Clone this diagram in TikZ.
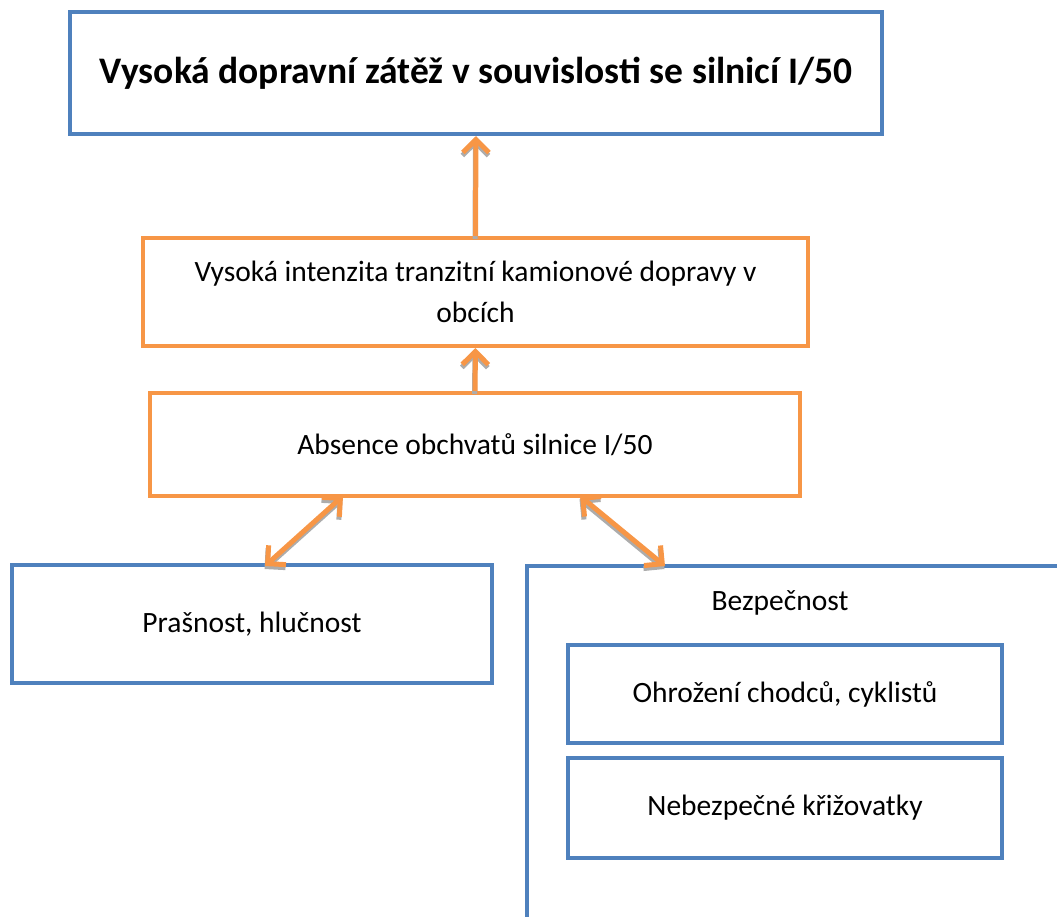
\documentclass[tikz,border=0pt]{standalone}
\usepackage{fontspec}
\setmainfont{Carlito}
\usetikzlibrary{arrows.meta}
\definecolor{boxblue}{HTML}{4F81BD}
\definecolor{boxorange}{HTML}{F79646}
\tikzset{
  bluebox/.style={draw=boxblue,line width=4pt,minimum width=#1},
  orangebox/.style={draw=boxorange,line width=4pt,minimum width=#1},
  link/.style={draw=#1,line width=5pt},
  tip/.tip={Straight Barb[length=13pt,width=26pt,line width=5pt]}
}
\begin{document}
\begin{tikzpicture}[x=1pt,y=-1pt,font=\fontsize{29.5}{41}\selectfont]
\useasboundingbox (0,0) rectangle (1057,916);
\clip (0,0) rectangle (1057,916);
\node[bluebox=812pt,minimum height=122pt,font=\fontsize{37.5}{44}\selectfont\bfseries] (title) at (476,73) {Vysoká dopravní zátěž v souvislosti se silnicí I/50};
\node[orangebox=665pt,minimum height=108pt,align=center] (intens) at (475.5,292) {Vysoká intenzita tranzitní kamionové dopravy v\\obcích};
\node[orangebox=650pt,minimum height=103pt] (absence) at (475,444.5) {Absence obchvatů silnice I/50};
\node[bluebox=480pt,minimum height=118pt] (prasnost) at (252,624) {Prašnost, hlučnost};
% Bezpecnost runs past the page edge
\draw[boxblue,line width=4pt] (527,960) |- (1100,566);
\node (bezp) at (780,603) {Bezpečnost};
\node[bluebox=434pt,minimum height=98pt] (ohrozeni) at (785,694) {Ohrožení chodců, cyklistů};
\node[bluebox=434pt,minimum height=100pt] (krizovatky) at (785,808) {Nebezpečné křižovatky};
\coordinate (p1) at (265,566);
\coordinate (p2) at (343,496);
\coordinate (b1) at (580,496);
\coordinate (b2) at (665,566);
% shadow first, then the arrow
\foreach \c/\dx/\dy in {gray!65/-0.5/3,boxorange/0/0}{
  \begin{scope}[transform canvas={shift={(\dx pt,-\dy pt)}}]
  \draw[link=\c,-tip] (intens.north) -- (title.south);
  \draw[link=\c,-tip] (absence.north) -- (intens.south);
  \draw[link=\c,tip-tip] (p1) -- (p2);
  \draw[link=\c,tip-tip] (b1) -- (b2);
  \end{scope}
}
\end{tikzpicture}
\end{document}
